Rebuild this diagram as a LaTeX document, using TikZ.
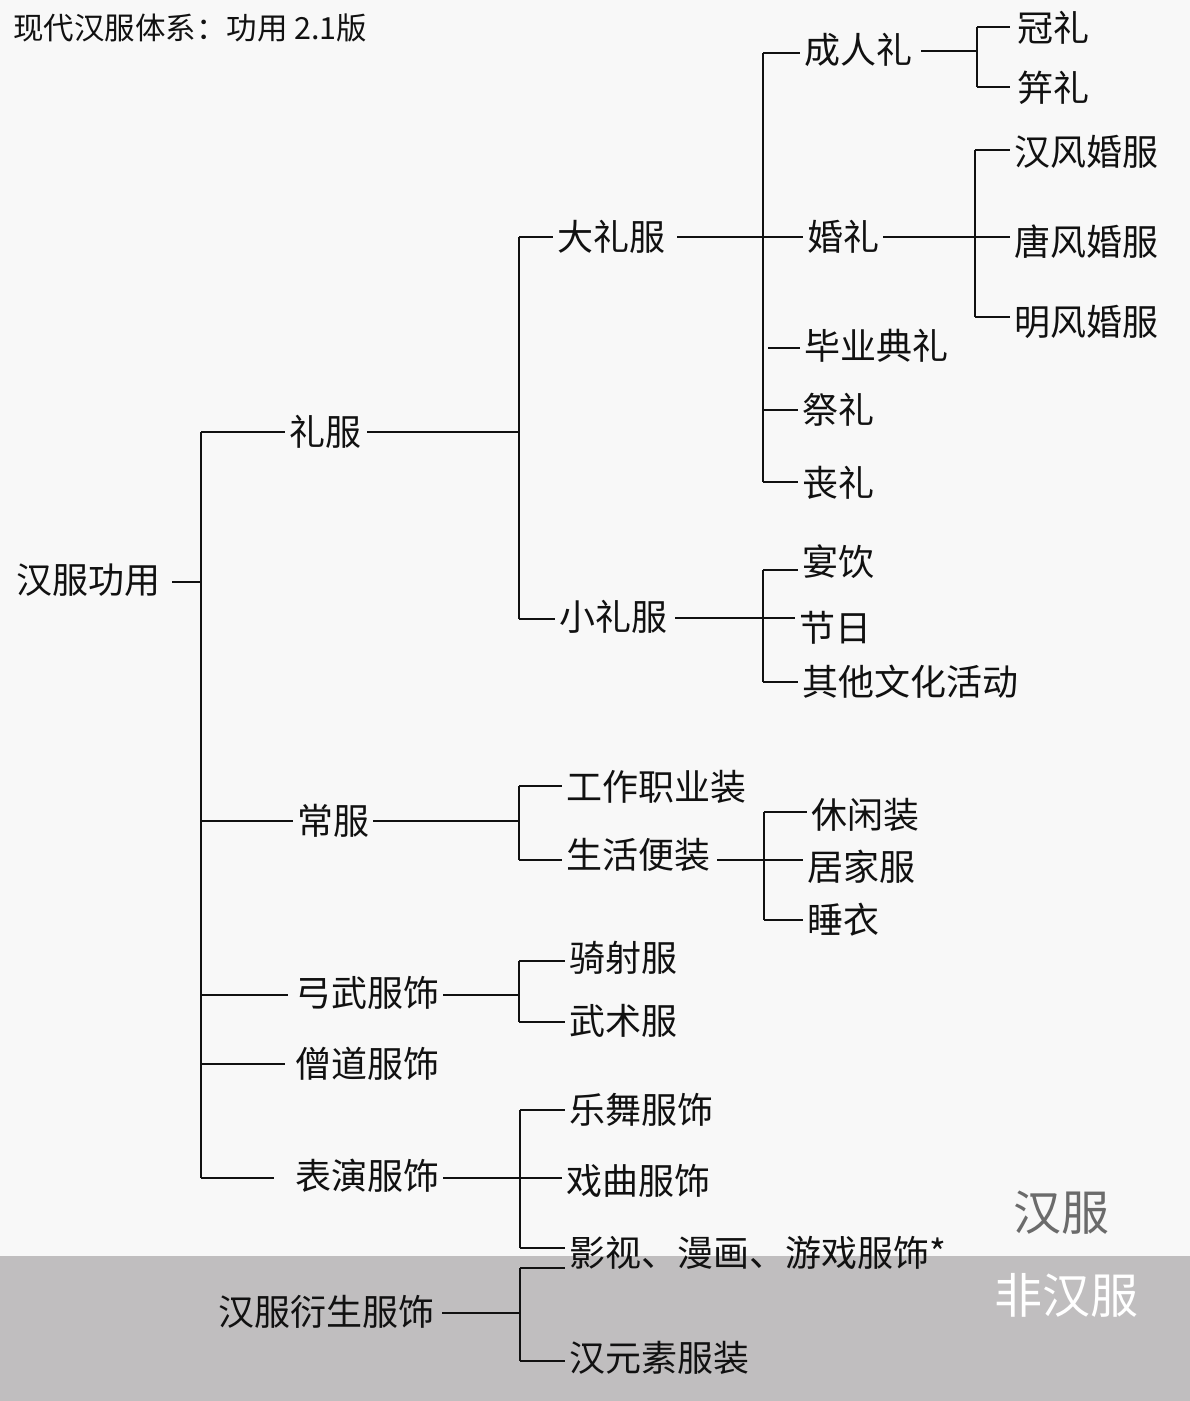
\documentclass[tikz,border=0pt]{standalone}
\usepackage{fontspec}
\setmainfont{Noto Sans CJK SC}
\usetikzlibrary{calc}
\definecolor{bgc}{HTML}{F8F8F8}
\definecolor{bandc}{HTML}{C0BEBF}
\definecolor{ink}{HTML}{111111}
\definecolor{tagc}{HTML}{6B6B6B}
\begin{document}
\begin{tikzpicture}[x=1pt,y=-1pt,
  lbl/.style={anchor=west, inner xsep=4pt, inner ysep=0pt, text height=30pt, text depth=2.5pt,
              font=\fontsize{36}{40}\selectfont, text=ink},
  conn/.style={draw=ink, line width=2pt}]
\fill[bgc] (0,0) rectangle (1190,1401);
\fill[bandc] (0,1256) rectangle (1190,1401);
\useasboundingbox (0,0) rectangle (1190,1401);

% title
\node[anchor=west, inner sep=0pt, text height=25.5pt, text depth=2pt, text=ink, font=\fontsize{30.5}{34}\selectfont] (title) at (13,28) {现代汉服体系：功用 2.1版};

% side tags
\node[font=\fontsize{48}{52}\selectfont, text=tagc, inner sep=0pt, text height=40pt, text depth=3.5pt] (tagA) at (1061,1212) {汉服};
\node[font=\fontsize{48}{52}\selectfont, text=white, inner sep=0pt, text height=40pt, text depth=3.5pt] (tagB) at (1066,1295) {非汉服};

% nodes
\node[lbl] (root) at (12,580) {汉服功用};
\node[lbl] (lf)  at (285,432) {礼服};
\node[lbl] (cf)  at (293,821) {常服};
\node[lbl] (gw)  at (291,993) {弓武服饰};
\node[lbl] (sd)  at (291,1064) {僧道服饰};
\node[lbl] (by)  at (291,1176) {表演服饰};
\node[lbl] (ys)  at (214,1312) {汉服衍生服饰};
\node[lbl] (dlf) at (553,237) {大礼服};
\node[lbl] (xlf) at (555,617) {小礼服};
\node[lbl] (crl) at (800,50) {成人礼};
\node[lbl] (hl)  at (803,237) {婚礼};
\node[lbl] (byd) at (800,346) {毕业典礼};
\node[lbl] (jl)  at (798,410) {祭礼};
\node[lbl] (sl)  at (798,483) {丧礼};
\node[lbl] (gl)  at (1013,28) {冠礼};
\node[lbl] (jil) at (1013,88) {笄礼};
\node[lbl] (hf1) at (1010,152) {汉风婚服};
\node[lbl] (hf2) at (1010,242) {唐风婚服};
\node[lbl] (hf3) at (1010,322) {明风婚服};
\node[lbl] (yy)  at (798,562) {宴饮};
\node[lbl] (jr)  at (795,628) {节日};
\node[lbl] (qt)  at (798,682) {其他文化活动};
\node[lbl] (gz)  at (562,787) {工作职业装};
\node[lbl] (sh)  at (562,855) {生活便装};
\node[lbl] (xx)  at (807,815) {休闲装};
\node[lbl] (jj)  at (803,867) {居家服};
\node[lbl] (sy)  at (803,920) {睡衣};
\node[lbl] (qs)  at (565,958) {骑射服};
\node[lbl] (ws)  at (565,1021) {武术服};
\node[lbl] (lw)  at (565,1110) {乐舞服饰};
\node[lbl] (xq)  at (562,1181) {戏曲服饰};
\node[lbl] (ysm) at (565,1253) {影视、漫画、游戏服饰*};
\node[lbl] (hys) at (565,1358) {汉元素服装};

% junction coordinates
\coordinate (k0)    at (201,582);
\coordinate (k-lf)  at (201,432);
\coordinate (k-cf)  at (201,821);
\coordinate (k-gw)  at (201,995);
\coordinate (k-sd)  at (201,1064);
\coordinate (k-by)  at (201,1178);

\coordinate (j-lf)  at (519,432);
\coordinate (k-dlf) at (519,237);
\coordinate (k-xlf) at (519,619);

\coordinate (k-crl) at (763,53);
\coordinate (k-hl)  at (763,237);
\coordinate (k-byd) at (768,348);
\coordinate (k-jl)  at (763,410);
\coordinate (k-sl)  at (763,482);

\coordinate (j-crl) at (977,51);
\coordinate (k-gl)  at (977,27);
\coordinate (k-jil) at (977,87);

\coordinate (k-hf1) at (975,150);
\coordinate (k-hf2) at (975,237);
\coordinate (k-hf3) at (975,317);

\coordinate (j-xlf) at (763,618);
\coordinate (k-yy)  at (763,570);
\coordinate (k-qt)  at (763,682);

\coordinate (j-cf)  at (519,821);
\coordinate (k-gz)  at (519,786);
\coordinate (k-sh)  at (519,860);

\coordinate (j-sh)  at (764,860);
\coordinate (k-xx)  at (764,812);
\coordinate (k-sy)  at (764,920);

\coordinate (j-gw)  at (519,995);
\coordinate (k-qs)  at (519,961);
\coordinate (k-ws)  at (519,1022);

\coordinate (j-by)  at (520,1178);
\coordinate (k-lw)  at (520,1110);
\coordinate (k-ysm) at (520,1248);

\coordinate (j-ys)  at (520,1313);
\coordinate (k-ys1) at (520,1268);
\coordinate (k-hys) at (520,1361);

% trunk
\draw[conn] ($(k0 -| root.east)+(8,0)$) -- (k0);
\draw[conn] (k-lf) -- (k-by);
\draw[conn] (k-lf) -- (k-lf -| lf.west);
\draw[conn] (k-cf) -- (k-cf -| cf.west);
\draw[conn] (k-gw) -- ($(k-gw -| gw.west)+(-3,0)$);
\draw[conn] (k-sd) -- ($(k-sd -| sd.west)+(-6,0)$);
\draw[conn] (k-by) -- ($(k-by -| by.west)+(-17,0)$);

% 礼服
\draw[conn] ($(j-lf -| lf.east)+(2,0)$) -- (j-lf);
\draw[conn] (k-dlf) -- (k-xlf);
\draw[conn] (k-dlf) -- (k-dlf -| dlf.west);
\draw[conn] (k-xlf) -- (k-xlf -| xlf.west);

% 大礼服
\draw[conn] ($(k-hl -| dlf.east)+(8,0)$) -- (k-hl -| hl.west);
\draw[conn] (k-crl) -- (k-sl);
\draw[conn] (k-crl) -- (k-crl -| crl.west);
\draw[conn] (k-byd) -- (k-byd -| byd.west);
\draw[conn] (k-jl) -- (k-jl -| jl.west);
\draw[conn] (k-sl) -- (k-sl -| sl.west);

% 成人礼
\draw[conn] ($(j-crl -| crl.east)+(5,0)$) -- (j-crl);
\draw[conn] (k-gl) -- (k-jil);
\draw[conn] (k-gl) -- ($(k-gl -| gl.west)+(-3,0)$);
\draw[conn] (k-jil) -- ($(k-jil -| jil.west)+(-3,0)$);

% 婚礼
\draw[conn] (k-hf2 -| hl.east) -- (k-hf2 -| hf2.west);
\draw[conn] (k-hf1) -- (k-hf3);
\draw[conn] (k-hf1) -- (k-hf1 -| hf1.west);
\draw[conn] (k-hf3) -- (k-hf3 -| hf3.west);

% 小礼服
\draw[conn] ($(j-xlf -| xlf.east)+(4,0)$) -- (j-xlf -| jr.west);
\draw[conn] (k-yy) -- (k-qt);
\draw[conn] (k-yy) -- (k-yy -| yy.west);
\draw[conn] (k-qt) -- (k-qt -| qt.west);

% 常服
\draw[conn] (j-cf -| cf.east) -- (j-cf);
\draw[conn] (k-gz) -- (k-sh);
\draw[conn] (k-gz) -- (k-gz -| gz.west);
\draw[conn] (k-sh) -- (k-sh -| sh.west);

% 生活便装
\draw[conn] ($(j-sh -| sh.east)+(3,0)$) -- (j-sh -| jj.west);
\draw[conn] (k-xx) -- (k-sy);
\draw[conn] (k-xx) -- (k-xx -| xx.west);
\draw[conn] (k-sy) -- (k-sy -| sy.west);

% 弓武服饰
\draw[conn] (j-gw -| gw.east) -- (j-gw);
\draw[conn] (k-qs) -- (k-ws);
\draw[conn] (k-qs) -- (k-qs -| qs.west);
\draw[conn] (k-ws) -- (k-ws -| ws.west);

% 表演服饰
\draw[conn] (j-by -| by.east) -- (j-by -| xq.west);
\draw[conn] (k-lw) -- (k-ysm);
\draw[conn] (k-lw) -- (k-lw -| lw.west);
\draw[conn] (k-ysm) -- (k-ysm -| ysm.west);

% 汉服衍生服饰
\draw[conn] ($(j-ys -| ys.east)+(4,0)$) -- (j-ys);
\draw[conn] (k-ys1) -- (k-hys);
\draw[conn] (k-ys1) -- (k-ys1 -| ysm.west);
\draw[conn] (k-hys) -- (k-hys -| hys.west);
\end{tikzpicture}
\end{document}
